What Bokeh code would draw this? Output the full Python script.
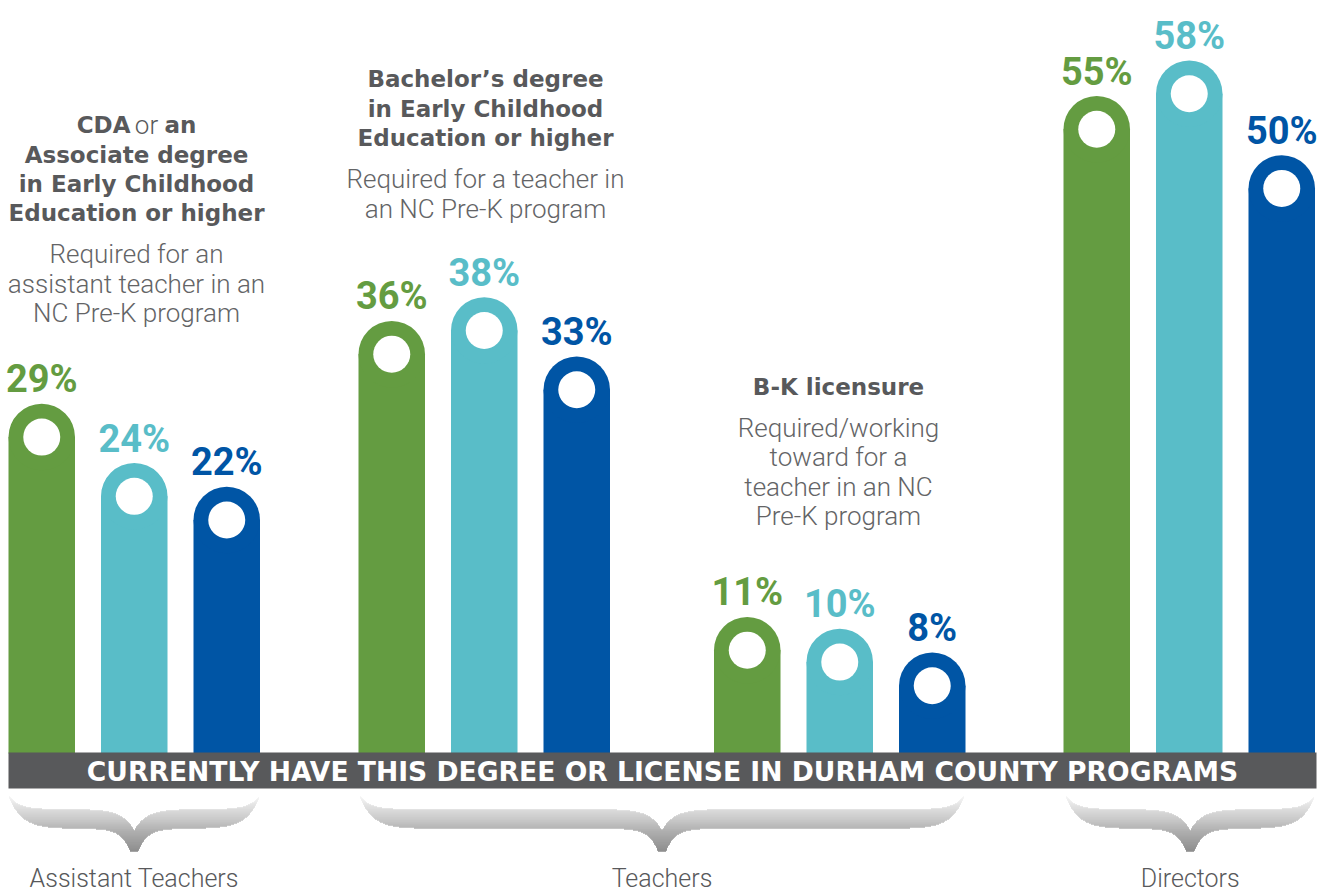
import numpy as np
from bokeh.plotting import figure
from bokeh.models import Range1d, ColumnDataSource
from bokeh.core.properties import value
from bokeh.embed import file_html
from bokeh.resources import INLINE

# ---------------- data ----------------
group_names = ["Assistant Teachers", "Teachers", "Directors"]
credential_groups = ["CDA / Associate", "Bachelor's", "B-K licensure", "Director"]
green_values = [29, 36, 11, 55]
cyan_values = [24, 38, 10, 58]
blue_values = [22, 33, 8, 50]
series_colors = ["#649c41", "#59bdc8", "#0055a5"]

band_text = "CURRENTLY HAVE THIS DEGREE OR LICENSE IN DURHAM COUNTY PROGRAMS"
head1_rest = ["Associate degree", "in Early Childhood", "Education or higher"]
sub1 = ["Required for an", "assistant teacher in an", "NC Pre-K program"]
head2 = ["Bachelor\u2019s degree", "in Early Childhood", "Education or higher"]
sub2 = ["Required for a teacher in", "an NC Pre-K program"]
head3 = ["B-K licensure"]
sub3 = ["Required/working", "toward for a", "teacher in an NC", "Pre-K program"]

# ---------------- layout ----------------
PX = 11.84      # screen px per percentage point
Y0 = 746.7      # page y of the 0 % line
TS = -8.5       # text baseline correction (px)


def yd(py):
    return (Y0 - py) / PX


def yt(py):
    return yd(py + TS)


W, H = 1327, 892
p = figure(width=W, height=H, x_range=Range1d(0, W), y_range=Range1d(yd(H), yd(0)),
           output_backend="svg", toolbar_location=None, min_border=0,
           x_axis_location=None, y_axis_location=None)
p.grid.visible = False
p.outline_line_color = None
p.background_fill_color = "white"
p.border_fill_color = "white"

BAR_W = 66.5
PITCH = 92.5
GROUP_LEFT = [8, 358, 713.5, 1063]

rows = dict(left=[], right=[], xc=[], v=[], vc=[], lab_y=[], color=[], label=[])
for si, vals in enumerate([green_values, cyan_values, blue_values]):
    for g, v in enumerate(vals):
        left = GROUP_LEFT[g] + si * PITCH
        rows["left"].append(left)
        rows["right"].append(left + BAR_W)
        rows["xc"].append(left + BAR_W / 2)
        rows["v"].append(v)
        rows["vc"].append(v - (BAR_W / 2) / PX)
        rows["lab_y"].append(v + (16 - TS) / PX)
        rows["color"].append(series_colors[si])
        rows["label"].append(f"{v}%")
src = ColumnDataSource(rows)

p.quad(left="left", right="right", top="vc", bottom=yd(753), fill_color="color",
       line_color=None, source=src)
p.scatter(x="xc", y="vc", size=BAR_W, marker="circle", fill_color="color",
          line_color=None, source=src)
p.scatter(x="xc", y="vc", size=37, marker="circle", fill_color="white",
          line_color=None, source=src)
p.text(x="xc", y="lab_y", text="label", text_color="color",
       text_font=value("Roboto"),
       text_font_style="bold", text_font_size="38px", text_align="center",
       text_baseline="alphabetic", source=src)

# ---------------- band ----------------
p.quad(left=8, right=1316, top=yd(752), bottom=yd(788), fill_color="#58595b", line_color=None)
p.text(x=[662], y=[yt(779)], text=[band_text], text_color="white",
       text_font=value("DejaVu Sans"), text_font_style="bold", text_font_size="26.6px",
       text_align="center", text_baseline="alphabetic")

HEAD_FONT = value("DejaVu Sans")
SUB_FONT = value("Roboto Light, Roboto, sans-serif")
TXT = "#58595b"
SUBC = "#636466"


def lines(xc, texts, y_first, step, font, style, size, color):
    p.text(x=[xc] * len(texts), y=[yt(y_first + i * step) for i in range(len(texts))],
           text=texts, text_font=font, text_font_style=style, text_font_size=size,
           text_color=color, text_align="center", text_baseline="alphabetic")


# group 1 heading (mixed first line)
p.text(x=[130], y=[yt(133)], text=["CDA"], text_font=HEAD_FONT, text_font_style="bold",
       text_font_size="23px", text_color=TXT, text_align="right", text_baseline="alphabetic")
p.text(x=[146], y=[yt(133)], text=["or"], text_font=SUB_FONT, text_font_style="normal",
       text_font_size="26px", text_color=TXT, text_align="center", text_baseline="alphabetic")
p.text(x=[164], y=[yt(133)], text=["an"], text_font=HEAD_FONT, text_font_style="bold",
       text_font_size="23px", text_color=TXT, text_align="left", text_baseline="alphabetic")
lines(136, head1_rest, 162.5, 29.3, HEAD_FONT, "bold", "23px", TXT)
lines(136, sub1, 262, 29.5, SUB_FONT, "normal", "26px", SUBC)

lines(485, head2, 87, 29.5, HEAD_FONT, "bold", "23px", TXT)
lines(485, sub2, 187, 29.5, SUB_FONT, "normal", "26px", SUBC)

lines(838, head3, 395, 29.5, HEAD_FONT, "bold", "23px", TXT)
lines(838, sub3, 436, 29.3, SUB_FONT, "normal", "26px", SUBC)

# ---------------- braces ----------------
brace_spans = [
    (GROUP_LEFT[0] + 1, GROUP_LEFT[0] + 2 * PITCH + BAR_W - 1),
    (GROUP_LEFT[1] + 2, GROUP_LEFT[2] + 2 * PITCH + BAR_W - 2),
    (GROUP_LEFT[3] + 3, GROUP_LEFT[3] + 2 * PITCH + BAR_W - 1),
]
stops_y = np.array([794, 806, 818, 830, 851], dtype=float)
stops_c = np.array([[250, 250, 250], [224, 224, 224], [200, 200, 200],
                    [172, 172, 172], [134, 134, 134]], dtype=float)


def row_color(y):
    c = [int(round(np.interp(y, stops_y, stops_c[:, k]))) for k in range(3)]
    return "#%02x%02x%02x" % tuple(c)


bq = dict(left=[], right=[], top=[], bottom=[], color=[])
for x0, x1 in brace_spans:
    xc = (x0 + x1) / 2
    xs = np.arange(np.ceil(x0), np.floor(x1) + 1)
    d = np.minimum(xs - x0, x1 - xs)
    c = np.abs(xs - xc)
    u = 809 - 13 * np.exp(-d / 10) + 21 * np.exp(-c / 12)
    lo = 828 - 30 * np.exp(-d / 13) + 23 * np.exp(-np.maximum(c - 4, 0) / 9)
    for y in range(794, 852):
        yy = y + 0.5
        m = (u <= yy) & (lo >= yy)
        if not m.any():
            continue
        idx = np.flatnonzero(m)
        breaks = np.flatnonzero(np.diff(idx) > 1)
        starts = np.concatenate([[idx[0]], idx[breaks + 1]])
        ends = np.concatenate([idx[breaks], [idx[-1]]])
        for s, e in zip(starts, ends):
            bq["left"].append(xs[s] - 0.5)
            bq["right"].append(xs[e] + 0.5)
            bq["top"].append(yd(y - 0.25))
            bq["bottom"].append(yd(y + 1.25))
            bq["color"].append(row_color(yy))
p.quad(left="left", right="right", top="top", bottom="bottom", fill_color="color",
       line_color=None, source=ColumnDataSource(bq))

label_x = [(s[0] + s[1]) / 2 for s in brace_spans]
p.text(x=label_x, y=[yt(886)] * 3, text=group_names, text_font=SUB_FONT,
       text_font_size="25px", text_color=TXT, text_align="center", text_baseline="alphabetic")

open("out.html", "w").write(file_html(p, INLINE, title="Durham County credentials"))
